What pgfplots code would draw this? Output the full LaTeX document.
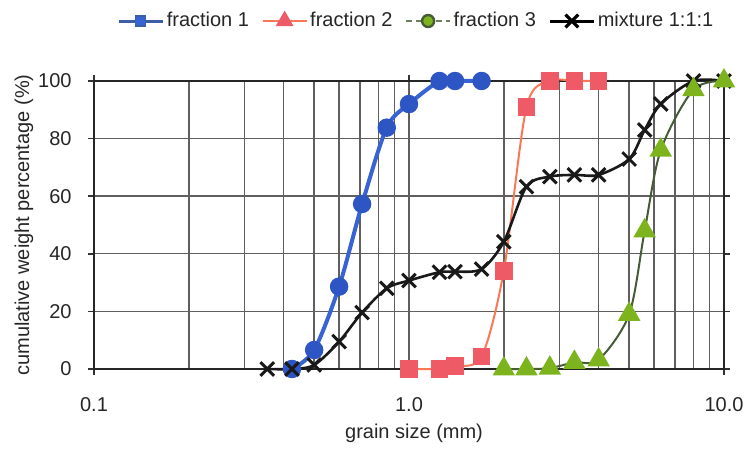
\documentclass[border=0pt]{standalone}
\usepackage{fontspec}
\setmainfont{Liberation Sans}
\usepackage{pgfplots}
\pgfplotsset{compat=1.18}
\definecolor{blueline}{RGB}{55,100,210}
\definecolor{bluemark}{RGB}{45,85,195}
\definecolor{bluelegend}{RGB}{60,95,165}
\definecolor{redsq}{RGB}{238,90,102}
\definecolor{orline}{RGB}{250,120,85}
\definecolor{greentri}{RGB}{125,180,30}
\definecolor{greenline}{RGB}{70,92,55}
\definecolor{gridc}{RGB}{95,95,95}
\begin{document}
\begin{tikzpicture}
\begin{axis}[name=ax,
  xmode=log, scale only axis, width=315pt, height=144pt,
  xmin=0.1, xmax=10, ymin=0, ymax=100,
  clip=false,
  ytick={0,20,40,60,80,100},
  xtick={0.1,1,10}, xticklabels={0.1,1.0,10.0},
  minor xtick={0.2,0.3,0.4,0.5,0.6,0.7,0.8,0.9,2,3,4,5,6,7,8,9},
  grid=both,
  major grid style={gridc, line width=0.7pt},
  minor grid style={gridc, line width=0.7pt},
  axis line style={line width=1.2pt, black!85},
  tick align=outside, major tick length=3pt, minor tick length=0pt,
  tick style={black!80, line width=0.8pt},
  /pgf/number format/assume math mode=true,
  tick label style={font=\fontsize{10}{12}\selectfont, text=black!85},
  xticklabel style={yshift=-7.5pt},
  yticklabel style={xshift=-4.7pt},
  label style={font=\fontsize{10}{12}\selectfont, text=black!85},
  xlabel={grain size (mm)},
  xlabel style={at={(axis description cs:0.508,-0.224)}, anchor=center},
  ylabel={cumulative weight percentage (\%)},
  ylabel style={at={(axis description cs:-0.111,0.5)}, anchor=center},
  legend style={at={(axis description cs:0.0365,1.2083)}, anchor=west,
    draw=none, fill=none, inner sep=0pt,
    font=\fontsize{10}{12}\selectfont, text=black!85,
    /tikz/every even column/.append style={column sep=5pt},
    nodes={inner sep=1.2pt}},
  legend columns=4,
  legend image code/.code={\draw[mark repeat=2,mark phase=2,#1] plot coordinates {(0pt,0pt) (11pt,0pt) (22pt,0pt)};},
]
\addlegendimage{bluelegend, line width=1.5pt, mark=square*, mark size=2.5pt, mark options={fill=blueline, draw=bluelegend, line width=0.6pt}}
\addlegendentry{fraction 1}
\addlegendimage{orline, line width=1.2pt, mark=triangle*, mark size=4pt, mark options={fill=redsq, draw=redsq}}
\addlegendentry{fraction 2}
\addlegendimage{greenline!80, line width=1.2pt, densely dashed, mark=*, mark size=3pt, mark options={solid, fill=greentri, draw=greenline}}
\addlegendentry{fraction 3}
\addlegendimage{black, line width=1.5pt, mark=x, mark size=4.5pt, mark options={line width=1.6pt}}
\addlegendentry{mixture 1:1:1}

% fraction 1
\addplot[forget plot, blueline, line width=2pt, smooth, tension=0.5, mark=*, mark size=3.6pt, mark options={fill=bluemark, draw=bluemark}] coordinates {
(0.425,0) (0.5,6.6) (0.6,28.6) (0.71,57.3) (0.85,83.8) (1.0,92) (1.25,100) (1.4,100) (1.7,100)
};
% fraction 2
\addplot[forget plot, orline, line width=1pt, smooth, tension=0.5, mark=square*, mark size=3.9pt, mark options={fill=redsq, draw=redsq}] coordinates {
(1.0,0) (1.25,0) (1.4,1) (1.7,4.3) (2.0,34.1) (2.36,90.9) (2.8,100) (3.35,100) (4.0,100)
};
% mixture
\addplot[forget plot, black!90, line width=1.3pt, smooth, tension=0.5, mark=x, mark size=4.8pt, mark options={line width=1.5pt}] coordinates {
(0.355,0) (0.425,0) (0.5,1.4) (0.6,9.5) (0.71,19.6) (0.85,28) (1.0,30.7) (1.25,33.6) (1.4,33.8) (1.7,34.7) (2.0,44.2) (2.36,63.3) (2.8,66.8) (3.35,67.4) (4.0,67.4) (5.0,72.9) (5.6,83) (6.3,92) (8.0,100) (10,100)
};
% fraction 3
\addplot[forget plot, greenline, line width=1pt, smooth, tension=0.5, mark=triangle*, mark size=5.5pt, mark options={fill=greentri, draw=greentri}] coordinates {
(2.0,0) (2.36,0) (2.8,0.3) (3.35,2.3) (4.0,3.2) (5.0,19) (5.6,48) (6.3,76) (8.0,97) (10,100)
};
\end{axis}
\pgfresetboundingbox
\path[use as bounding box] ([shift={(-47pt,-40pt)}]ax.south west) rectangle ([shift={(11.5pt,40.5pt)}]ax.north east);
\end{tikzpicture}
\end{document}
